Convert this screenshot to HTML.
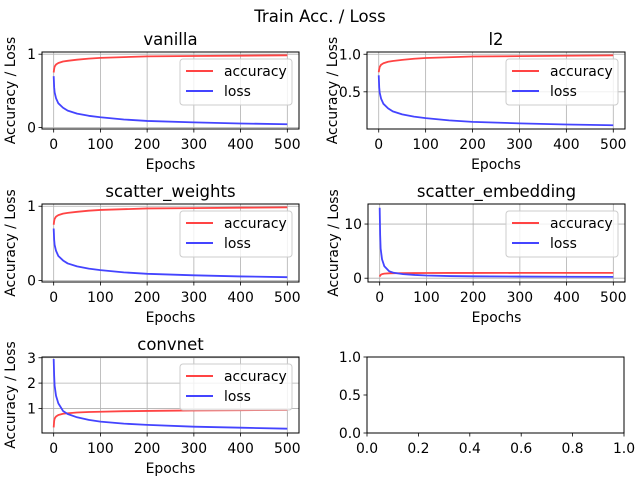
<!DOCTYPE html>
<html><head><meta charset="utf-8"><style>
body{margin:0;background:#fff}
svg{display:block;font-family:"DejaVu Sans","Liberation Sans",sans-serif}
</style></head><body>
<svg id="fig" width="640" height="480" xmlns="http://www.w3.org/2000/svg">
<rect width="640" height="480" fill="#fff"/>
<text x="320" y="22" text-anchor="middle" font-size="16.5">Train Acc. / Loss</text>
</svg>
<script>
const epochs = [0,1,2,5,10,20,30,50,75,100,150,200,300,400,500];
const vanillaAcc = [0.75,0.8,0.83,0.86,0.88,0.9,0.91,0.925,0.94,0.95,0.96,0.97,0.975,0.98,0.985];
const vanillaLoss = [0.7,0.55,0.48,0.4,0.33,0.27,0.23,0.19,0.16,0.14,0.11,0.09,0.07,0.055,0.045];
const l2Acc = [0.76,0.8,0.83,0.86,0.88,0.9,0.91,0.925,0.94,0.95,0.96,0.97,0.975,0.98,0.985];
const l2Loss = [0.72,0.56,0.49,0.41,0.34,0.28,0.24,0.2,0.17,0.15,0.12,0.1,0.08,0.065,0.055];
const swAcc = [0.75,0.8,0.83,0.86,0.88,0.9,0.91,0.925,0.94,0.95,0.96,0.97,0.975,0.98,0.985];
const swLoss = [0.7,0.55,0.48,0.4,0.33,0.27,0.23,0.19,0.16,0.14,0.11,0.09,0.07,0.055,0.045];
const seAcc = [0.3,0.5,0.6,0.75,0.85,0.9,0.92,0.94,0.95,0.96,0.97,0.97,0.98,0.98,0.98];
const seLoss = [13,8,5.5,3.5,2.2,1.3,1.0,0.75,0.6,0.5,0.4,0.35,0.3,0.27,0.25];
const cnAcc = [0.25,0.5,0.6,0.68,0.74,0.79,0.81,0.84,0.86,0.87,0.89,0.9,0.92,0.93,0.94];
const cnLoss = [2.95,2.3,1.9,1.5,1.2,0.9,0.78,0.65,0.55,0.48,0.4,0.35,0.28,0.24,0.2];
const xTicks = [0,100,200,300,400,500];
const emptyXTicks = [0,0.2,0.4,0.6,0.8,1.0];
const emptyYTicks = [0,0.5,1.0];

const NS="http://www.w3.org/2000/svg";
const svg=document.getElementById('fig');
function el(tag,attrs,parent){const e=document.createElementNS(NS,tag);for(const k in attrs)e.setAttribute(k,attrs[k]);(parent||svg).appendChild(e);return e;}
const FS=13.9;
const panels=[
 {name:'vanilla',x0:42,x1:299,y0:52,y1:129,ymin:-0.02,ymax:1.03,yt:[0,1],yl:['0','1'],acc:vanillaAcc,loss:vanillaLoss},
 {name:'l2',x0:367,x1:625,y0:52,y1:129,ymin:0.005,ymax:1.03,yt:[0.5,1.0],yl:['0.5','1.0'],acc:l2Acc,loss:l2Loss},
 {name:'scatter_weights',x0:42,x1:299,y0:204,y1:282,ymin:-0.02,ymax:1.03,yt:[0,1],yl:['0','1'],acc:swAcc,loss:swLoss},
 {name:'scatter_embedding',x0:368,x1:625,y0:204,y1:282,ymin:-0.7,ymax:13.7,yt:[0,10],yl:['0','10'],acc:seAcc,loss:seLoss},
 {name:'convnet',x0:42,x1:299,y0:357,y1:433,ymin:0.03,ymax:3.03,yt:[1,2,3],yl:['1','2','3'],acc:cnAcc,loss:cnLoss},
];
panels.forEach(p=>{
 const g=el('g',{});
 
 
 const sx=v=>p.x0+(v+25)/550*(p.x1-p.x0);
 const sy=v=>p.y1-(v-p.ymin)/(p.ymax-p.ymin)*(p.y1-p.y0);
 xTicks.forEach(t=>{
  const X=sx(t);
  const gl=el('line',{x1:X,x2:X,y1:p.y0,y2:p.y1,stroke:'#b0b0b0','stroke-width':0.8},g);
  
  el('line',{x1:X,x2:X,y1:p.y1,y2:p.y1+3.5,stroke:'#000','stroke-width':0.8},g);
  const tx=el('text',{x:X,y:p.y1+20,'text-anchor':'middle','font-size':FS},g);tx.textContent=t;
  
 });
 p.yt.forEach((t,i)=>{
  const Y=sy(t);
  const gl=el('line',{x1:p.x0,x2:p.x1,y1:Y,y2:Y,stroke:'#b0b0b0','stroke-width':0.8},g);
  
  el('line',{x1:p.x0-3.5,x2:p.x0,y1:Y,y2:Y,stroke:'#000','stroke-width':0.8},g);
  const tx=el('text',{x:p.x0-6,y:Y+5,'text-anchor':'end','font-size':FS},g);tx.textContent=p.yl[i];
  
 });
 [['acc','#ff4444','accuracy-line'],['loss','#4444ff','loss-line']].forEach(([k,c,n])=>{
  const d=epochs.map((e,i)=>(i?'L':'M')+sx(e).toFixed(2)+','+sy(p[k][i]).toFixed(2)).join('');
  const pl=el('path',{d:d,fill:'none',stroke:c,'stroke-width':1.8,'stroke-linejoin':'round'},g);
  
 });
 el('rect',{x:p.x0,y:p.y0,width:p.x1-p.x0,height:p.y1-p.y0,fill:'none',stroke:'#000','stroke-width':1},g);
 const ti=el('text',{x:(p.x0+p.x1)/2,y:p.y0-7,'text-anchor':'middle','font-size':16.5},g);ti.textContent=p.name;
 
 const xl=el('text',{x:(p.x0+p.x1)/2,y:p.y1+40,'text-anchor':'middle','font-size':FS},g);xl.textContent='Epochs';
 
 const cy=(p.y0+p.y1)/2,cx=p.x0-(p.x0<100?27:30);
 const yl=el('text',{x:cx,y:cy,'text-anchor':'middle','font-size':FS,transform:'rotate(-90 '+cx+' '+cy+')'},g);yl.textContent='Accuracy / Loss';
 
 const lg=el('g',{},g);
 
 const lx=p.x1-119,ly=p.y0+7;
 el('rect',{x:lx,y:ly,width:112,height:46,rx:3,fill:'#fff','fill-opacity':0.8,stroke:'#ccc'},lg);
 el('line',{x1:lx+6,x2:lx+33,y1:ly+12,y2:ly+12,stroke:'#ff4444','stroke-width':2},lg);
 el('line',{x1:lx+6,x2:lx+33,y1:ly+32,y2:ly+32,stroke:'#4444ff','stroke-width':2},lg);
 const a=el('text',{x:lx+44,y:ly+17,'font-size':FS},lg);a.textContent='accuracy';
 
 const b=el('text',{x:lx+44,y:ly+37,'font-size':FS},lg);b.textContent='loss';
 
});
(function(){
 const x0=367,x1=624,y0=357,y1=433;
 const g=el('g',{});
 
 emptyXTicks.forEach(v=>{
  const X=x0+v*(x1-x0);
  el('line',{x1:X,x2:X,y1:y1,y2:y1+3.5,stroke:'#000','stroke-width':0.8},g);
  const tx=el('text',{x:X,y:y1+20,'text-anchor':'middle','font-size':FS},g);tx.textContent=v.toFixed(1);
  
 });
 emptyYTicks.forEach(v=>{
  const Y=y1-v*(y1-y0);
  el('line',{x1:x0-3.5,x2:x0,y1:Y,y2:Y,stroke:'#000','stroke-width':0.8},g);
  const ty=el('text',{x:x0-6,y:Y+5,'text-anchor':'end','font-size':FS},g);ty.textContent=v.toFixed(1);
  
 });
 el('rect',{x:x0,y:y0,width:x1-x0,height:y1-y0,fill:'none',stroke:'#000','stroke-width':1},g);
})();
</script>
</body></html>
